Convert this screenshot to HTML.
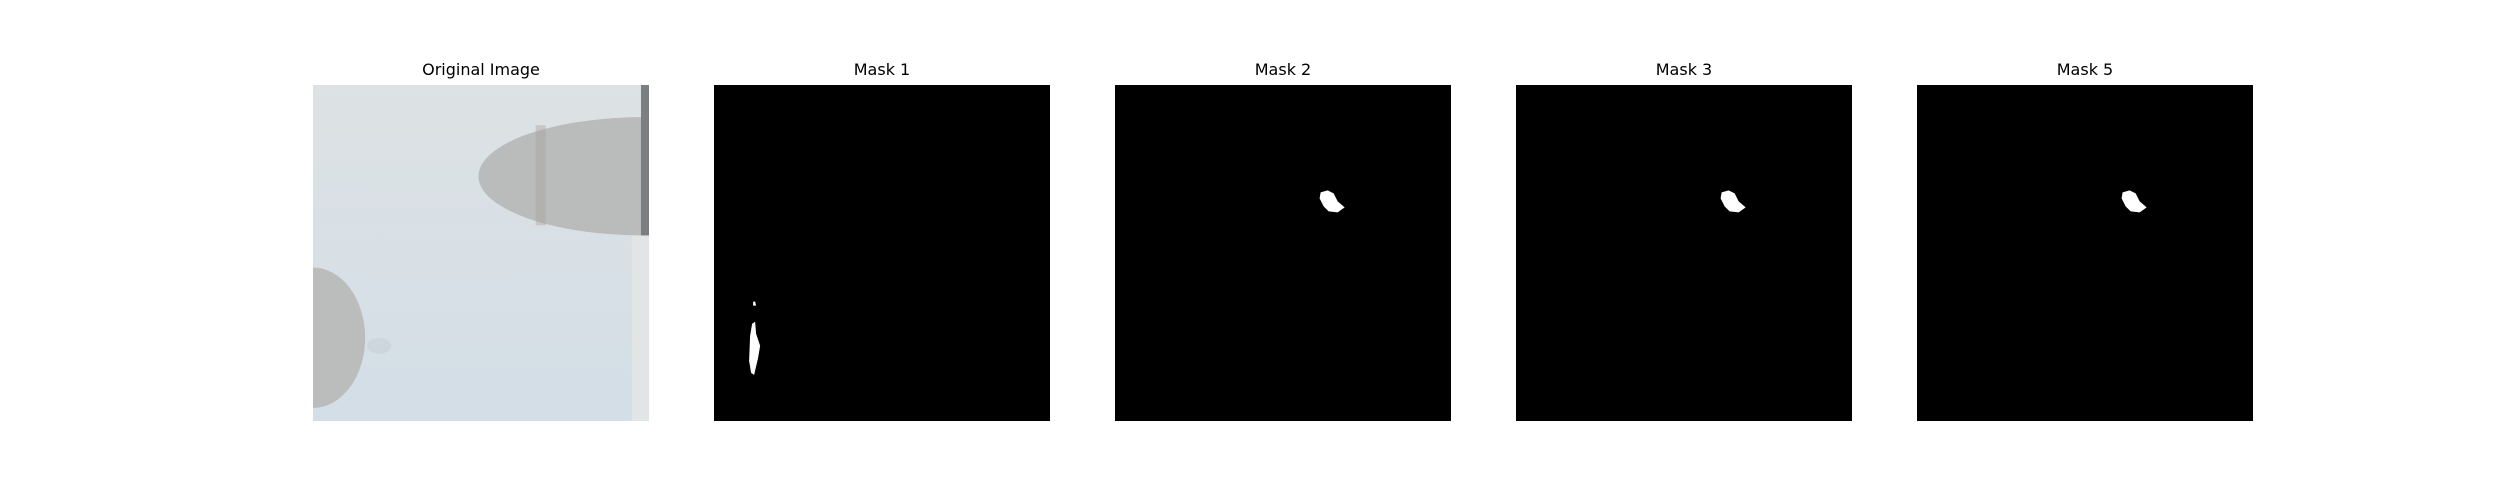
<!DOCTYPE html>
<html><head><meta charset="utf-8"><style>
body{margin:0;width:2500px;height:500px;background:#fff;position:relative;overflow:hidden;font-family:"Liberation Sans","DejaVu Sans",sans-serif}
.t{position:absolute;top:60px;width:336px;text-align:center;font-size:16px;color:#000;font-family:"DejaVu Sans","Liberation Sans",sans-serif}
.p{position:absolute;top:85px;width:336px;height:336px;background:#000}
</style></head><body>
<div class="t" style="left:313px">Original Image</div>
<svg class="p" style="left:313px;background:#d6dfe5" width="336" height="336" viewBox="0 0 335 335">
<defs><linearGradient id="g" x1="0" y1="0" x2="0" y2="1"><stop offset="0" stop-color="#dde2e4"/><stop offset="1" stop-color="#d3dee7"/></linearGradient></defs>
<rect width="335" height="335" fill="url(#g)"/>
<ellipse cx="330" cy="91" rx="165" ry="59" fill="#b9bcbb"/>
<rect x="222" y="40" width="10" height="100" fill="#a99f98" opacity="0.4"/>
<rect x="327" y="0" width="8" height="150" fill="#7b7f80"/>
<rect x="318" y="150" width="17" height="185" fill="#e2e5e6"/>
<ellipse cx="0" cy="252" rx="52" ry="70" fill="#bbbdbc"/>
<ellipse cx="66" cy="260" rx="12" ry="8" fill="#cdd6dc"/>
</svg>
<div class="t" style="left:714px">Mask 1</div>
<svg class="p" style="left:714px" width="336" height="336" viewBox="0 0 335 335">
<polygon points="39,216 41,216 42,220 39,220" fill="#fff"/>
<polygon points="38,238 41,236 42,248 46,260 44,272 40,289 37,287 35,275 36,250" fill="#fff"/>
</svg>
<div class="t" style="left:1115px">Mask 2</div>
<svg class="p" style="left:1115px" width="336" height="336" viewBox="0 0 335 335">
<polygon points="205,107 212,105 218,108 222,116 229,122 222,127 213,126 208,121 204,113" fill="#fff"/>
</svg>
<div class="t" style="left:1516px">Mask 3</div>
<svg class="p" style="left:1516px" width="336" height="336" viewBox="0 0 335 335">
<polygon points="205,107 212,105 218,108 222,116 229,122 222,127 213,126 208,121 204,113" fill="#fff"/>
</svg>
<div class="t" style="left:1917px">Mask 5</div>
<svg class="p" style="left:1917px" width="336" height="336" viewBox="0 0 335 335">
<polygon points="205,107 212,105 218,108 222,116 229,122 222,127 213,126 208,121 204,113" fill="#fff"/>
</svg>
</body></html>
